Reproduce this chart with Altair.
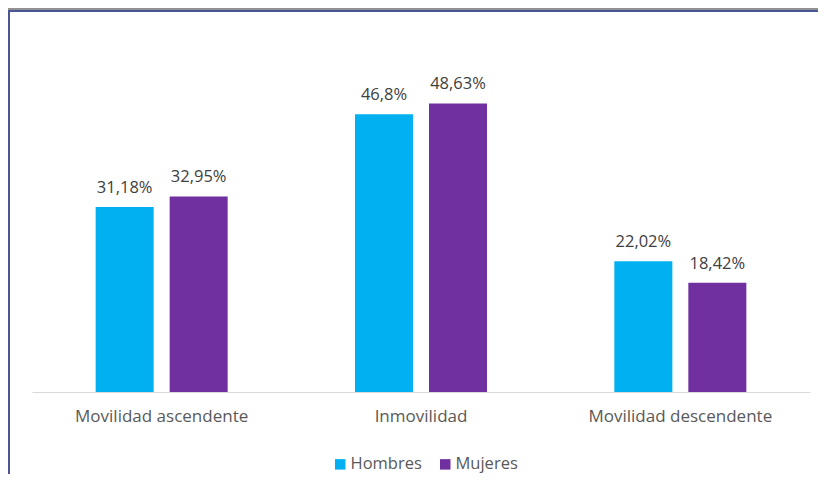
import altair as alt
import pandas as pd

categorias = ["Movilidad ascendente", "Inmovilidad", "Movilidad descendente"]
sexos = ["Hombres", "Mujeres"]
hombres = [31.18, 46.8, 22.02]
mujeres = [32.95, 48.63, 18.42]
etiquetas_h = ["31,18%", "46,8%", "22,02%"]
etiquetas_m = ["32,95%", "48,63%", "18,42%"]
colores = ["#00B0F0", "#7030A0"]

rows = []
for i, c in enumerate(categorias):
    rows.append({"categoria": c, "sexo": "Hombres", "valor": hombres[i], "etiqueta": etiquetas_h[i]})
    rows.append({"categoria": c, "sexo": "Mujeres", "valor": mujeres[i], "etiqueta": etiquetas_m[i]})
df = pd.DataFrame(rows)

FONT = "Open Sans"

x_enc = alt.X("categoria:N", sort=categorias, title=None,
              scale=alt.Scale(paddingInner=0.491, paddingOuter=0.2455),
              axis=alt.Axis(labelAngle=0, ticks=False, domainColor="#D9D9D9", domainWidth=1,
                            labelFont=FONT, labelFontSize=17, labelColor="#595959",
                            labelPadding=16, labelLimit=400, grid=False))
xoff = alt.XOffset("sexo:N", sort=sexos, scale=alt.Scale(paddingInner=0.216, paddingOuter=0))
y_enc = alt.Y("valor:Q", scale=alt.Scale(domain=[0, 60]), axis=None)

bars = alt.Chart(df).mark_bar().encode(
    x=x_enc,
    xOffset=xoff,
    y=y_enc,
    color=alt.Color("sexo:N", sort=sexos, scale=alt.Scale(domain=sexos, range=colores),
                    legend=alt.Legend(title=None, orient="none", legendX=300, legendY=420,
                                      direction="horizontal", symbolType="square",
                                      symbolSize=110, symbolStrokeWidth=0,
                                      labelFont=FONT, labelFontSize=16.5, labelColor="#595959",
                                      labelOffset=2, columnPadding=15, padding=0)),
)

text = alt.Chart(df).mark_text(baseline="alphabetic", dy=-14, font=FONT, fontSize=16.5,
                               color="#404040").encode(
    x=alt.X("categoria:N", sort=categorias),
    xOffset=alt.XOffset("sexo:N", sort=sexos),
    y="valor:Q",
    text="etiqueta:N",
)

deco = alt.Data(values=[{"k": 1}])
gray_top = alt.Chart(deco).mark_rect(color="#929292").encode(
    x=alt.value(-24), x2=alt.value(800), y=alt.value(-28), y2=alt.value(-26))
blue_top = alt.Chart(deco).mark_rule(color="#4A5796", strokeWidth=2).encode(
    x=alt.value(-24), x2=alt.value(800), y=alt.value(-25))
blue_left = alt.Chart(deco).mark_rule(color="#4A5796", strokeWidth=2).encode(
    x=alt.value(-23), y=alt.value(-26), y2=alt.value(440))

chart = alt.layer(bars, text, gray_top, blue_top, blue_left).properties(
    width=778, height=356,
    autosize=alt.AutoSizeParams(type="none"),
    padding={"left": 24, "top": 28, "right": 8, "bottom": 82},
    background="white",
).configure_view(stroke=None)

chart.save("out.html", embed_options={"renderer": "svg", "actions": False})
